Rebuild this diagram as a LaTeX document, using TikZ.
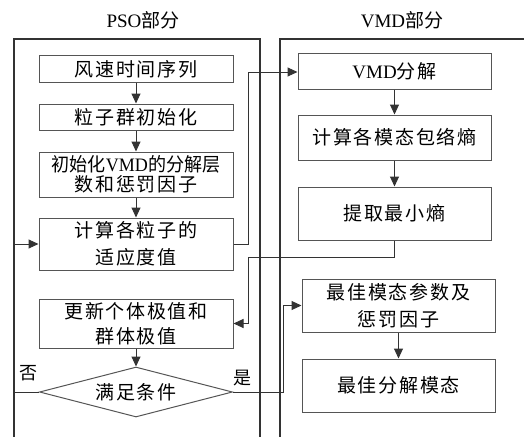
\documentclass[tikz,border=0pt]{standalone}
\usepackage{fontspec}
\setmainfont{Liberation Serif}
\newfontfamily\cjk[LetterSpace=9]{Noto Sans CJK SC}
\newfontfamily\cjkt{Noto Sans CJK SC}
\usetikzlibrary{arrows.meta,shapes.geometric,calc}
\definecolor{boxgray}{HTML}{555555}
\definecolor{linegray}{HTML}{333333}
\begin{document}
\begin{tikzpicture}[x=1pt,y=-1pt,
  box/.style={draw=boxgray, line width=1pt, fill=white, minimum width=194pt, inner sep=0pt, align=center,
    font=\fontsize{19}{25}\selectfont},
  rbox/.style={box, minimum width=193pt},
  title/.style={font=\fontsize{19}{22}\selectfont, inner sep=0pt},
  lbl/.style={font=\fontsize{18}{20}\selectfont\cjkt, inner sep=0pt},
  frame/.style={draw=linegray, line width=1.2pt},
  conn/.style={draw=linegray, line width=1pt, -{Triangle[width=9pt,length=10pt]}},
  plain/.style={draw=linegray, line width=1pt}]
\useasboundingbox (0,0) rectangle (524,436);
% containers
\draw[frame] (14,437) -- (14,39) -- (260,39) -- (260,437);
\draw[frame] (280,437) -- (280,39) -- (525,39);
% titles
\node[title] (t1) at (143,20) {PSO{\cjkt 部分}};
\node[title] (t2) at (402,20) {VMD{\cjkt 部分}};
% left boxes
\node[box, minimum height=26pt] (b1) at (136,69) {\cjk 风速时间序列};
\node[box, minimum height=26pt] (b2) at (136,117) {\cjk 粒子群初始化};
\node[box, minimum height=45pt, font=\fontsize{19}{20}\selectfont] (b3) at (136,174.5)
  {\scalebox{0.95}[1]{{\cjkt 初始化}VMD{\cjkt 的分解层}}\\{\cjk 数和惩罚因子}};
\node[box, minimum height=52pt, font=\fontsize{19}{27}\selectfont] (b4) at (136,244) {\cjk 计算各粒子的\\\cjk 适应度值};
\node[box, minimum height=49pt] (b5) at (136,323.5) {\cjk 更新个体极值和\\\cjk 群体极值};
\node[diamond, shape aspect=3.86, draw=boxgray, line width=1pt, fill=white, inner sep=0pt, minimum width=193pt, minimum height=50pt,
  font=\fontsize{19}{22}\selectfont] (d) at (136,392) {\cjk 满足条件};
% right boxes
\node[rbox, minimum height=35pt] (r1) at (394.5,71.5) {VMD{\cjk 分解}};
\node[rbox, minimum height=45pt] (r2) at (394.5,137.5) {\cjk 计算各模态包络熵};
\node[rbox, minimum height=53pt] (r3) at (394.5,213.5) {\cjk 提取最小熵};
\node[rbox, minimum height=53pt, font=\fontsize{19}{27}\selectfont] (r4) at (398.5,305.5) {\cjk 最佳模态参数及\\\cjk 惩罚因子};
\node[rbox, minimum height=53pt] (r5) at (398.5,385.5) {\cjk 最佳分解模态};
% labels
\node[lbl] (no) at (28,373) {否};
\node[lbl] (yes) at (242,378) {是};
% connectors
\draw[conn] (b1) -- (b2);
\draw[conn] (b2) -- (b3);
\draw[conn] (b3) -- (b4);
\draw[conn] (b5) -- (d);
\draw[conn] (r1) -- (r2);
\draw[conn] (r2) -- (r3);
\draw[conn] (r4) -- (r5);
\coordinate (c1) at (248,72);
\draw[conn] (b4.east) -| (c1) -- (r1.west |- c1);
\coordinate (c2) at (248,257);
\draw[conn] (r3.south) |- (c2) |- (b5.east);
\coordinate (c3) at (283,392);
\draw[conn] (d.east) -- (c3) |- (r4.west);
\coordinate (c4) at (14,392);
\draw[conn] (d.west) -- (c4) |- (b4.west);
\end{tikzpicture}
\end{document}
